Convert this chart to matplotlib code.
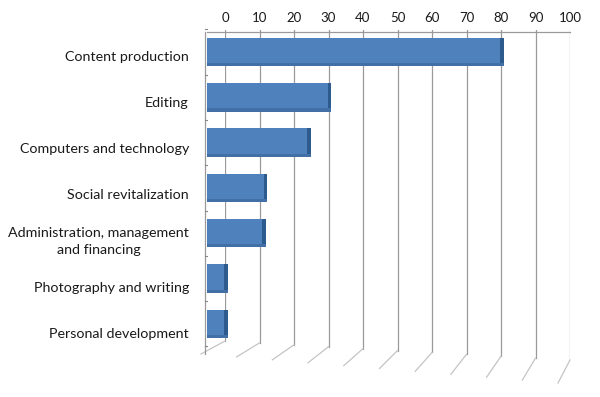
import numpy as np
import matplotlib
matplotlib.use("Agg")
import matplotlib.pyplot as plt
from matplotlib.transforms import ScaledTranslation

# data (front face of the 3d bars)
categories = ["Content production", "Editing", "Computers and technology",
              "Social revitalization", "Administration, management\nand financing",
              "Photography and writing", "Personal development"]
values = [86, 36, 30, 17.5, 17, 6, 6]
ticks = [0, 10, 20, 30, 40, 50, 60, 70, 80, 90, 100]

plt.rcParams['font.family'] = ['Lato', 'DejaVu Sans']

W, H = 600, 397
fig = plt.figure(figsize=(W / 100, H / 100), dpi=100)

# axes = back wall of the 3d chart (pixels 225..570, 30..385)
top_px, bot_px = 30, 385
ax = fig.add_axes([225 / W, 1 - bot_px / H, (570 - 225) / W, (bot_px - top_px) / H])

row_px = 45.3
first_px = 52


def py(p):
    # pixel row -> data y
    return (p - first_px) / row_px


ax.set_xlim(0, 100)
ax.set_ylim(py(bot_px), py(top_px))
for s in ax.spines.values():
    s.set_visible(False)
ax.xaxis.tick_top()
ax.set_xticks(ticks)
ax.tick_params(axis='x', length=0, pad=4, labelsize=9.5, colors='#1a1a1a')
ax.set_yticks([])

grid_c = '#9a9a9a'
# back wall gridlines + slanted floor part
for v in ticks:
    yb_px = 341 + 19 * v / 100
    ax.plot([v, v], [py(top_px - 3), py(yb_px)], color=grid_c, lw=0.9, zorder=1)
    dx = -24 + 12 * v / 100
    dy = 13 + 10 * v / 100
    ax.plot([v, v + dx / 3.45], [py(yb_px), py(yb_px + dy)],
            color='#c4c4c4', lw=0.9, zorder=1, clip_on=False)

# top edge of the wall and left side wall
ax.plot([-18 / 3.45, 100], [py(32), py(32)], color=grid_c, lw=0.9, clip_on=False)
ax.plot([-20 / 3.45, -20 / 3.45], [py(32), py(354)], color=grid_c, lw=0.9, clip_on=False)
for i in range(len(categories) + 1):
    yy = py(first_px - row_px / 2) + i
    ax.plot([-20 / 3.45, -18 / 3.45], [yy, yy], color='#888888', lw=0.8, clip_on=False)

# bars on the front plane, shifted left of the back wall
front = ax.transData + ScaledTranslation(-18 / 100, 0, fig.dpi_scale_trans)
y = np.arange(len(categories))
ax.barh(y, values, height=0.63, color='#4f81bd', transform=front, zorder=3, clip_on=False)
ax.barh(y, [1.0] * len(values), left=np.array(values) - 1.0, height=0.63,
        color='#2e5b8e', transform=front, zorder=4, clip_on=False)
ax.barh(y + 0.28, values, height=0.07, color='#426fa6', transform=front, zorder=4,
        clip_on=False)

# category labels (a bit lower than the bars, front plane of the 3d view)
for i, c in enumerate(categories):
    lab = ax.transData + ScaledTranslation(-(225 - 189) / 100, -(5 + 0.8 * i) / 100,
                                           fig.dpi_scale_trans)
    ax.text(0, i, c, transform=lab, ha='right', va='center', fontsize=10.3,
            color='#1a1a1a', multialignment='center', linespacing=1.45)

fig.savefig("out.png", dpi=100)
